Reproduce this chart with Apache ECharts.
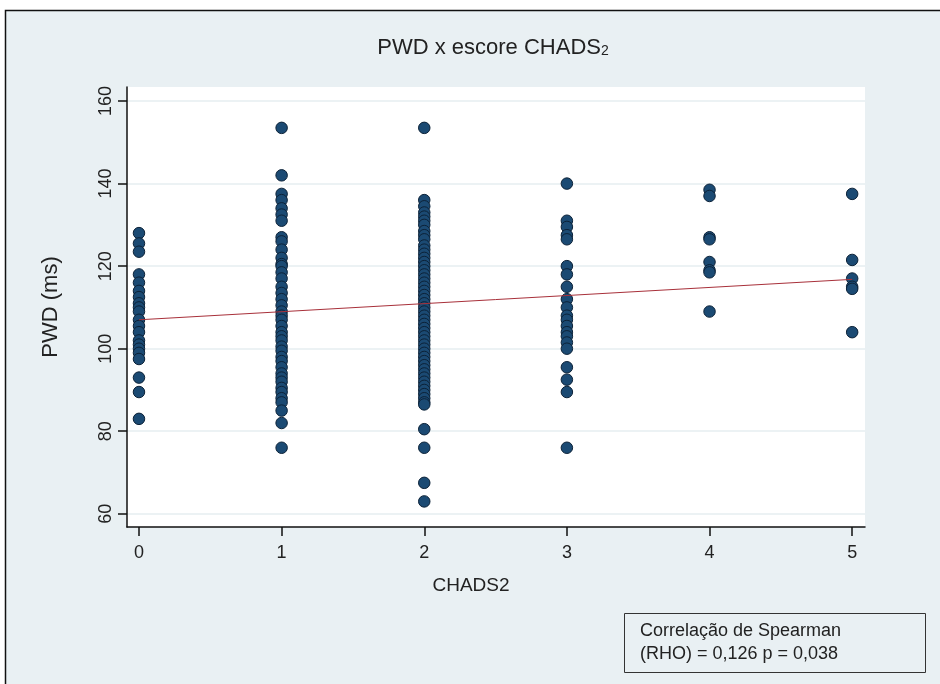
<!DOCTYPE html>
<html>
<head>
<meta charset="utf-8">
<script src="https://cdn.jsdelivr.net/npm/echarts@6/dist/echarts.min.js"></script>
<style>
    html, body { margin: 0; padding: 0; background: #fff; }
    #chart { width: 940px; height: 684px; }
</style>
</head>
<body>
<div id="chart"></div>
<script>
// CHADS2 score for each group, PWD values (ms)
var chadsScores = [0, 1, 2, 3, 4, 5];
var pwdScore0 = [128, 125.5, 123.5, 118, 116, 114, 112.5, 111, 110, 109, 107, 105.5, 104, 102, 101, 100, 99, 97.5, 93, 89.5, 83];
var pwdScore1 = [153.5, 142, 137.5, 136, 134, 132.5, 131, 127, 126, 124, 122, 120.5, 120, 118.5, 117, 115, 113.5, 112, 110.5, 109, 108, 107, 105.5, 104, 103, 102, 100.5, 99.5, 98, 97, 95.5, 94, 93, 92, 90.5, 89.5, 88, 87, 85, 82, 76];
var pwdScore2 = [153.5, 136, 134.5, 133, 132, 131, 130, 128.5, 127.5, 126.5, 125, 124, 123, 122, 121, 120, 119, 118, 117, 116, 115, 114, 113, 112, 111, 110, 109, 108, 107, 106, 105, 104, 103, 102, 101, 100, 99, 98, 97, 96, 95, 94, 93, 92, 91, 90, 89, 88, 87, 86.5, 80.5, 76, 67.5, 63];
var pwdScore3 = [140, 131, 129.5, 127.5, 126.5, 120, 118, 115, 112, 110, 108, 107, 105.5, 104, 103, 101.5, 100, 95.5, 92.5, 89.5, 76];
var pwdScore4 = [138.5, 137, 127, 126.5, 121, 119, 118.5, 109];
var pwdScore5 = [137.5, 121.5, 117, 115, 114.5, 104];

// fitted line
var fitX = [0, 5];
var fitY = [107, 116.8];

var yTicks = [60, 80, 100, 120, 140, 160];
var xTicks = [0, 1, 2, 3, 4, 5];

var groups = [pwdScore0, pwdScore1, pwdScore2, pwdScore3, pwdScore4, pwdScore5];
var points = [];
groups.forEach(function (vals, i) {
    vals.forEach(function (v) {
        points.push([chadsScores[i], v]);
    });
});
var fitLine = fitX.map(function (x, i) { return [x, fitY[i]]; });

var chart = echarts.init(document.getElementById('chart'));
var font = 'Liberation Sans, Arial, sans-serif';

var option = {
    animation: false,
    backgroundColor: '#fff',
    textStyle: { fontFamily: font },
    title: {
        text: 'PWD x escore CHADS{sub|2}',
        left: 488,
        top: 32,
        textAlign: 'center',
        textStyle: {
            fontFamily: font,
            fontSize: 22,
            fontWeight: 'normal',
            color: '#222',
            rich: {
                sub: { fontSize: 14, color: '#222', fontFamily: font, padding: [7, 0, 0, 0] }
            }
        }
    },
    graphic: [{
        type: 'rect',
        z: -10,
        shape: { x: 5.5, y: 10.5, width: 960, height: 700 },
        style: { fill: '#e9f0f3', stroke: '#111', lineWidth: 1.5 }
    }, {
        type: 'rect',
        z: 100,
        shape: { x: 624.5, y: 613.5, width: 301, height: 59 },
        style: { fill: 'transparent', stroke: '#333', lineWidth: 1 }
    }, {
        type: 'text',
        z: 100,
        left: 640,
        top: 620,
        style: {
            text: 'Correlação de Spearman\n(RHO) = 0,126 p = 0,038',
            font: '18px ' + font,
            fill: '#222',
            lineHeight: 23
        }
    }],
    grid: {
        left: 127,
        right: 75,
        top: 87,
        bottom: 157,
        show: true,
        backgroundColor: '#fff',
        borderWidth: 0
    },
    xAxis: {
        type: 'value',
        min: -0.084,
        max: 5.09,
        name: 'CHADS2',
        nameLocation: 'middle',
        nameGap: 49,
        nameTextStyle: { fontSize: 19, color: '#222', fontFamily: font, padding: [0, 50, 0, 0] },
        axisLine: { onZero: false, lineStyle: { color: '#111', width: 1.5 } },
        axisTick: { customValues: xTicks, length: 9, lineStyle: { color: '#111', width: 1.5 } },
        axisLabel: { customValues: xTicks, fontSize: 18, color: '#222', margin: 17, fontFamily: font },
        splitLine: { show: false }
    },
    yAxis: {
        type: 'value',
        min: 56.8,
        max: 163.4,
        name: 'PWD (ms)',
        nameLocation: 'middle',
        nameGap: 65,
        nameRotate: 90,
        nameTextStyle: { fontSize: 22, color: '#222', fontFamily: font },
        axisLine: { onZero: false, lineStyle: { color: '#111', width: 1.5 } },
        axisTick: { customValues: yTicks, length: 9, lineStyle: { color: '#111', width: 1.5 } },
        axisLabel: { customValues: yTicks, rotate: 90, fontSize: 18, color: '#222', margin: 12, fontFamily: font },
        splitLine: { show: true, lineStyle: { color: '#e6eef0', width: 1.5 } }
    },
    series: [{
        type: 'scatter',
        data: points,
        symbolSize: 11.5,
        itemStyle: { color: '#1b4a73', borderColor: '#0c2238', borderWidth: 1, opacity: 1 }
    }, {
        type: 'line',
        data: fitLine,
        symbol: 'none',
        lineStyle: { color: '#a8303a', width: 1 },
        z: 3
    }]
};
chart.setOption(option);
</script>
</body>
</html>
